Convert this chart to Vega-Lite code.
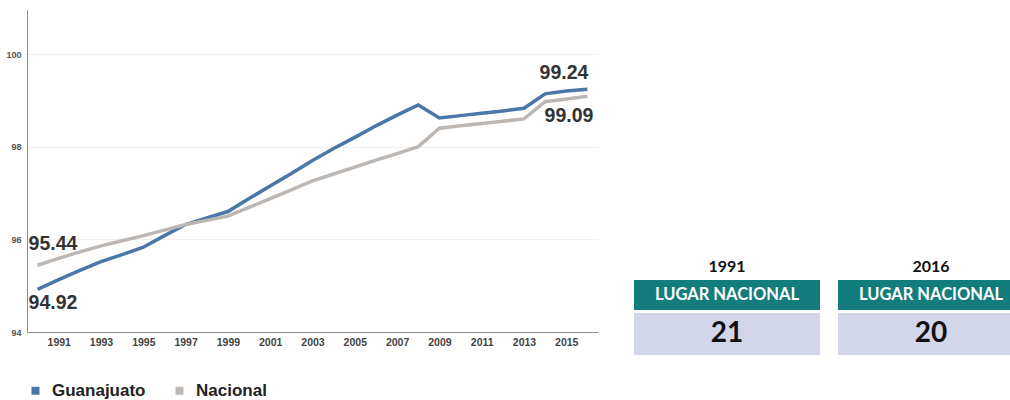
{
  "$schema": "https://vega.github.io/schema/vega-lite/v6.json",
  "padding": {"left": 5, "top": 10, "right": 0, "bottom": 0},
  "config": {"view": {"stroke": null}, "font": "Liberation Sans"},
  "datasets": {
    "serie": [
      {"year": 1990, "serie": "Guanajuato", "valor": 94.92},
      {"year": 1991, "serie": "Guanajuato", "valor": 95.13},
      {"year": 1992, "serie": "Guanajuato", "valor": 95.33},
      {"year": 1993, "serie": "Guanajuato", "valor": 95.52},
      {"year": 1994, "serie": "Guanajuato", "valor": 95.67},
      {"year": 1995, "serie": "Guanajuato", "valor": 95.83},
      {"year": 1996, "serie": "Guanajuato", "valor": 96.08},
      {"year": 1997, "serie": "Guanajuato", "valor": 96.32},
      {"year": 1998, "serie": "Guanajuato", "valor": 96.46},
      {"year": 1999, "serie": "Guanajuato", "valor": 96.60},
      {"year": 2000, "serie": "Guanajuato", "valor": 96.88},
      {"year": 2001, "serie": "Guanajuato", "valor": 97.15},
      {"year": 2002, "serie": "Guanajuato", "valor": 97.42},
      {"year": 2003, "serie": "Guanajuato", "valor": 97.70},
      {"year": 2004, "serie": "Guanajuato", "valor": 97.96},
      {"year": 2005, "serie": "Guanajuato", "valor": 98.20},
      {"year": 2006, "serie": "Guanajuato", "valor": 98.45},
      {"year": 2007, "serie": "Guanajuato", "valor": 98.68},
      {"year": 2008, "serie": "Guanajuato", "valor": 98.90},
      {"year": 2009, "serie": "Guanajuato", "valor": 98.62},
      {"year": 2010, "serie": "Guanajuato", "valor": 98.67},
      {"year": 2011, "serie": "Guanajuato", "valor": 98.72},
      {"year": 2012, "serie": "Guanajuato", "valor": 98.77},
      {"year": 2013, "serie": "Guanajuato", "valor": 98.83},
      {"year": 2014, "serie": "Guanajuato", "valor": 99.14},
      {"year": 2015, "serie": "Guanajuato", "valor": 99.20},
      {"year": 2016, "serie": "Guanajuato", "valor": 99.24},
      {"year": 1990, "serie": "Nacional", "valor": 95.44},
      {"year": 1991, "serie": "Nacional", "valor": 95.59},
      {"year": 1992, "serie": "Nacional", "valor": 95.73},
      {"year": 1993, "serie": "Nacional", "valor": 95.86},
      {"year": 1994, "serie": "Nacional", "valor": 95.97},
      {"year": 1995, "serie": "Nacional", "valor": 96.08},
      {"year": 1996, "serie": "Nacional", "valor": 96.20},
      {"year": 1997, "serie": "Nacional", "valor": 96.32},
      {"year": 1998, "serie": "Nacional", "valor": 96.41},
      {"year": 1999, "serie": "Nacional", "valor": 96.50},
      {"year": 2000, "serie": "Nacional", "valor": 96.69},
      {"year": 2001, "serie": "Nacional", "valor": 96.88},
      {"year": 2002, "serie": "Nacional", "valor": 97.07},
      {"year": 2003, "serie": "Nacional", "valor": 97.26},
      {"year": 2004, "serie": "Nacional", "valor": 97.41},
      {"year": 2005, "serie": "Nacional", "valor": 97.56},
      {"year": 2006, "serie": "Nacional", "valor": 97.71},
      {"year": 2007, "serie": "Nacional", "valor": 97.85},
      {"year": 2008, "serie": "Nacional", "valor": 98.00},
      {"year": 2009, "serie": "Nacional", "valor": 98.40},
      {"year": 2010, "serie": "Nacional", "valor": 98.45},
      {"year": 2011, "serie": "Nacional", "valor": 98.50},
      {"year": 2012, "serie": "Nacional", "valor": 98.55},
      {"year": 2013, "serie": "Nacional", "valor": 98.60},
      {"year": 2014, "serie": "Nacional", "valor": 98.97},
      {"year": 2015, "serie": "Nacional", "valor": 99.03},
      {"year": 2016, "serie": "Nacional", "valor": 99.09}
    ],
    "cajas": [
      {"anio": "1991", "encabezado": "LUGAR NACIONAL", "lugar": 21},
      {"anio": "2016", "encabezado": "LUGAR NACIONAL", "lugar": 20}
    ]
  },
  "spacing": 36,
  "hconcat": [
    {
      "width": 571,
      "height": 322,
      "data": {"name": "serie"},
      "encoding": {
        "x": {
          "field": "year", "type": "quantitative",
          "scale": {"domain": [1989.5, 2016.5], "nice": false, "zero": false},
          "axis": {
            "values": [1991, 1993, 1995, 1997, 1999, 2001, 2003, 2005, 2007, 2009, 2011, 2013, 2015],
            "format": "d", "title": null, "grid": false, "ticks": false,
            "domainColor": "#8c8c8c", "labelFont": "Liberation Sans", "labelFontWeight": "bold",
            "labelFontSize": 10.5, "labelColor": "#444444", "labelPadding": 5
          }
        },
        "y": {
          "field": "valor", "type": "quantitative",
          "scale": {"domain": [94, 100.95], "nice": false, "zero": false},
          "axis": {
            "values": [94, 96, 98, 100], "title": null, "ticks": false,
            "gridColor": "#efefef", "domainColor": "#8c8c8c", "labelFont": "Liberation Sans",
            "labelFontWeight": "bold", "labelFontSize": 9, "labelColor": "#555555", "labelPadding": 6
          }
        }
      },
      "layer": [
        {
          "mark": {"type": "line", "strokeWidth": 3.5},
          "encoding": {
            "color": {
              "field": "serie", "type": "nominal",
              "scale": {"domain": ["Guanajuato", "Nacional"], "range": ["#4a77a8", "#bdb7b3"]},
              "legend": {
                "orient": "bottom", "title": null, "direction": "horizontal",
                "symbolType": "square", "symbolSize": 64, "symbolStrokeWidth": 0,
                "labelFontSize": 17, "labelFontWeight": "bold", "labelColor": "#222222",
                "labelFont": "Liberation Sans", "columnPadding": 25, "labelOffset": 8, "offset": 27,
                "encode": {
                  "symbols": {
                    "update": {
                      "fill": {"scale": "color", "field": "value"},
                      "fillOpacity": {"value": 1},
                      "strokeWidth": {"value": 0}
                    }
                  }
                }
              }
            }
          }
        },
        {
          "transform": [{"filter": "datum.year == 1990 && datum.serie == 'Nacional'"}],
          "mark": {"type": "text", "align": "left", "dx": -9, "dy": -21, "fontSize": 19.5, "fontWeight": "bold", "color": "#333333"},
          "encoding": {"text": {"field": "valor", "type": "quantitative", "format": ".2f"}}
        },
        {
          "transform": [{"filter": "datum.year == 1990 && datum.serie == 'Guanajuato'"}],
          "mark": {"type": "text", "align": "left", "dx": -9, "dy": 14, "fontSize": 19.5, "fontWeight": "bold", "color": "#333333"},
          "encoding": {"text": {"field": "valor", "type": "quantitative", "format": ".2f"}}
        },
        {
          "transform": [{"filter": "datum.year == 2016 && datum.serie == 'Guanajuato'"}],
          "mark": {"type": "text", "align": "right", "dx": 1, "dy": -16, "fontSize": 19.5, "fontWeight": "bold", "color": "#333333"},
          "encoding": {"text": {"field": "valor", "type": "quantitative", "format": ".2f"}}
        },
        {
          "transform": [{"filter": "datum.year == 2016 && datum.serie == 'Nacional'"}],
          "mark": {"type": "text", "align": "right", "dx": 6, "dy": 20, "fontSize": 19.5, "fontWeight": "bold", "color": "#333333"},
          "encoding": {"text": {"field": "valor", "type": "quantitative", "format": ".2f"}}
        }
      ]
    },
    {
      "spacing": 3,
      "vconcat": [
        {
          "width": 377,
          "height": 245,
          "data": {"values": []},
          "mark": "point"
        },
        {
          "width": 377,
          "height": 30,
          "data": {"name": "cajas"},
          "encoding": {
            "x": {
              "field": "anio", "type": "nominal",
              "scale": {"range": [0, 390], "paddingInner": 0.088, "paddingOuter": 0},
              "axis": {
                "orient": "top", "title": null, "domain": false, "ticks": false, "labelAngle": 0,
                "labelFont": "Lato", "labelFontSize": 16, "labelFontWeight": "bold",
                "labelColor": "#111111", "labelPadding": 6
              }
            }
          },
          "layer": [
            {"mark": {"type": "rect", "color": "#137c7c", "clip": true}},
            {
              "mark": {"type": "text", "color": "white", "font": "Lato", "fontSize": 16.5, "fontWeight": "bold", "clip": true},
              "encoding": {"text": {"field": "encabezado"}}
            }
          ]
        },
        {
          "width": 377,
          "height": 42,
          "data": {"name": "cajas"},
          "encoding": {
            "x": {
              "field": "anio", "type": "nominal",
              "scale": {"range": [0, 390], "paddingInner": 0.088, "paddingOuter": 0},
              "axis": null
            }
          },
          "layer": [
            {"mark": {"type": "rect", "color": "#d3d6ea", "clip": true}},
            {
              "mark": {"type": "text", "color": "#111111", "font": "Lato", "fontSize": 28, "fontWeight": "bold", "clip": true},
              "encoding": {"text": {"field": "lugar", "type": "quantitative"}}
            }
          ]
        }
      ]
    }
  ]
}
